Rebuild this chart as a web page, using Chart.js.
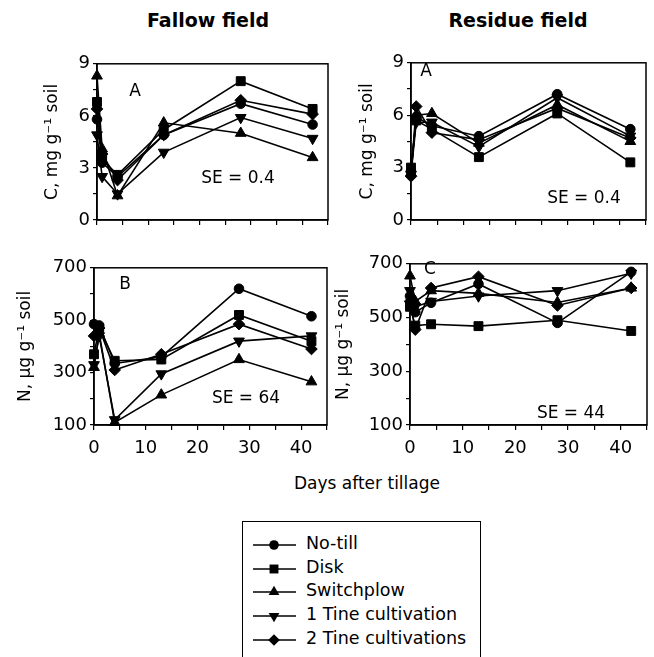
<!DOCTYPE html>
<html lang="en">
<head>
    <meta charset="UTF-8">
    <title>Fallow and residue field C and N</title>
    <style>
        body {
            margin: 0;
            background: #fff;
            font-family: "DejaVu Sans", Arial, sans-serif;
            color: #000;
        }
        .wrap {
            position: relative;
            width: 654px;
            height: 657px;
            overflow: hidden;
        }
        canvas {
            position: absolute;
        }
        .txt {
            position: absolute;
            transform: translate(-50%, -50%);
            white-space: nowrap;
            font-size: 17px;
        }
        .head {
            font-weight: bold;
            font-size: 19px;
        }
        .legend {
            position: absolute;
            left: 242px;
            top: 521px;
            width: 239px;
            height: 150px;
            border: 1.5px solid #000;
            box-sizing: border-box;
        }
        .row {
            position: absolute;
            left: 0;
            height: 24px;
            width: 236px;
        }
        .row canvas {
            left: 9px;
            top: 2px;
        }
        .row span {
            position: absolute;
            left: 63px;
            top: 1px;
            font-size: 17.5px;
        }
    </style>
    <script src="https://cdn.jsdelivr.net/npm/chart.js@4.4.1/dist/chart.umd.min.js"></script>
</head>
<body>
<div class="wrap">
    <div class="txt head" style="left:208px; top:20px;">Fallow field</div>
    <div class="txt head" style="left:518px; top:20px;">Residue field</div>

    <canvas id="c1" width="294" height="210" style="left:42px; top:50px;"></canvas>
    <canvas id="c2" width="297" height="211" style="left:357px; top:49px;"></canvas>
    <canvas id="c3" width="320" height="211" style="left:15px; top:254px;"></canvas>
    <canvas id="c4" width="322" height="215" style="left:333px; top:250px;"></canvas>

    <div class="txt" style="left:135px; top:90px;">A</div>
    <div class="txt" style="left:238px; top:177px;">SE = 0.4</div>
    <div class="txt" style="left:426px; top:70px;">A</div>
    <div class="txt" style="left:584px; top:197px;">SE = 0.4</div>
    <div class="txt" style="left:125px; top:283px;">B</div>
    <div class="txt" style="left:246px; top:397px;">SE = 64</div>
    <div class="txt" style="left:430px; top:268px;">C</div>
    <div class="txt" style="left:571px; top:412px;">SE = 44</div>

    <div class="txt" style="left:367px; top:483px;">Days after tillage</div>

    <div class="legend" id="legend"></div>
</div>

<script>
    // sampling days after tillage
    const days = [0, 1, 4, 13, 28, 42];
    const treatments = ['No-till', 'Disk', 'Switchplow', '1 Tine cultivation', '2 Tine cultivations'];

    // C, mg g-1 soil (rows follow treatments)
    const fallowC = [
        [5.8, 3.3, 2.5, 4.9, 6.7, 5.5],
        [6.8, 3.5, 2.6, 5.2, 8.0, 6.4],
        [8.3, 4.1, 1.4, 5.6, 5.0, 3.6],
        [4.9, 2.5, 1.5, 3.9, 5.9, 4.7],
        [6.4, 3.8, 2.3, 4.9, 6.9, 6.1]
    ];
    const residueC = [
        [2.8, 5.9, 5.4, 4.8, 7.2, 5.2],
        [3.0, 5.7, 5.2, 3.6, 6.1, 3.3],
        [2.7, 6.0, 6.1, 4.4, 6.6, 4.5],
        [2.6, 5.6, 5.6, 4.2, 7.0, 4.8],
        [2.5, 6.5, 5.0, 4.6, 6.4, 4.7]
    ];

    // N, ug g-1 soil
    const fallowN = [
        [485, 480, 335, 360, 620, 515],
        [370, 470, 345, 350, 520, 420],
        [320, 450, 110, 215, 350, 265],
        [330, 440, 120, 295, 420, 440],
        [440, 470, 310, 370, 485, 390]
    ];
    const residueN = [
        [580, 520, 555, 625, 480, 670],
        [540, 470, 475, 468, 490, 450],
        [655, 560, 600, 590, 556, 610],
        [600, 540, 560, 580, 600, 665],
        [560, 455, 610, 652, 545, 610]
    ];

    const markers = [
        {style: 'circle', radius: 4.8, rot: 0},
        {style: 'rect', radius: 6.3, rot: 0},
        {style: 'triangle', radius: 6.2, rot: 0},
        {style: 'triangle', radius: 6.2, rot: 180},
        {style: 'rectRot', radius: 5.8, rot: 0}
    ];

    Chart.defaults.font.family = '"DejaVu Sans", Arial, sans-serif';
    Chart.defaults.font.size = 18;
    Chart.defaults.color = '#000';

    const frame = {
        id: 'frame',
        afterDraw(chart) {
            const a = chart.chartArea;
            const ctx = chart.ctx;
            ctx.save();
            ctx.strokeStyle = '#000';
            ctx.lineWidth = 1.5;
            ctx.strokeRect(a.left, a.top, a.right - a.left, a.bottom - a.top);
            ctx.restore();
        }
    };

    function isMultiple(v, base, m) {
        const k = (v - base) / m;
        return Math.abs(k - Math.round(k)) < 1e-6;
    }

    function panel(id, rows, yMin, yMax, yStep, yEvery, yTitle, axisW, showX) {
        const datasets = rows.map((vals, i) => ({
            label: treatments[i],
            data: vals.map((v, j) => ({x: days[j], y: v})),
            borderColor: '#000',
            backgroundColor: '#000',
            borderWidth: 1.6,
            pointStyle: markers[i].style,
            pointRadius: markers[i].radius,
            pointRotation: markers[i].rot,
            pointBorderWidth: 1,
            pointBackgroundColor: '#000',
            pointBorderColor: '#000',
            tension: 0,
            clip: false
        }));
        return new Chart(id, {
            type: 'line',
            data: {datasets: datasets},
            options: {
                responsive: false,
                animation: false,
                layout: {autoPadding: false, padding: {left: 0, top: 8, right: 8, bottom: 0}},
                plugins: {legend: {display: false}, tooltip: {enabled: false}},
                scales: {
                    x: {
                        type: 'linear',
                        min: 0,
                        max: 45,
                        ticks: {
                            stepSize: 5,
                            autoSkip: false,
                            maxRotation: 0,
                            padding: 8,
                            callback: v => (showX && isMultiple(v, 0, 10)) ? v : ''
                        },
                        grid: {drawOnChartArea: false, tickLength: 5, color: '#000', lineWidth: 1.2},
                        border: {color: '#000', width: 1.5},
                        afterFit: s => { s.height = 40; }
                    },
                    y: {
                        min: yMin,
                        max: yMax,
                        ticks: {
                            stepSize: yStep,
                            autoSkip: false,
                            padding: 3,
                            callback: v => isMultiple(v, yMin, yEvery) ? v : ''
                        },
                        grid: {drawOnChartArea: false, tickLength: 4, color: '#000', lineWidth: 1.2},
                        border: {color: '#000', width: 1.5},
                        title: {display: true, text: yTitle, padding: 0, font: {size: 17}},
                        afterFit: s => { s.width = axisW; }
                    }
                }
            },
            plugins: [frame]
        });
    }

    panel('c1', fallowC, 0, 9, 1.5, 3, 'C, mg g\u207B\u00B9 soil', 55, false);
    panel('c2', residueC, 0, 9, 1.5, 3, 'C, mg g\u207B\u00B9 soil', 54, false);
    panel('c3', fallowN, 100, 700, 100, 200, 'N, \u00B5g g\u207B\u00B9 soil', 79, true);
    panel('c4', residueN, 100, 700, 100, 200, 'N, \u00B5g g\u207B\u00B9 soil', 77, true);

    // legend samples: line with marker in the middle
    function drawMarker(ctx, m, x, y) {
        const r = m.radius;
        ctx.beginPath();
        if (m.style === 'circle') {
            ctx.arc(x, y, r, 0, Math.PI * 2);
        } else if (m.style === 'rect') {
            const s = Math.SQRT1_2 * r;
            ctx.rect(x - s, y - s, 2 * s, 2 * s);
        } else if (m.style === 'triangle') {
            const d = m.rot === 180 ? -1 : 1;
            const half = Math.sqrt(3) / 2 * r;
            ctx.moveTo(x, y - d * r);
            ctx.lineTo(x - half, y + d * r / 2);
            ctx.lineTo(x + half, y + d * r / 2);
            ctx.closePath();
        } else {
            ctx.moveTo(x, y - r);
            ctx.lineTo(x + r, y);
            ctx.lineTo(x, y + r);
            ctx.lineTo(x - r, y);
            ctx.closePath();
        }
        ctx.fill();
    }

    const legend = document.getElementById('legend');
    treatments.forEach((name, i) => {
        const row = document.createElement('div');
        row.className = 'row';
        row.style.top = (10 + i * 23.7) + 'px';
        const cv = document.createElement('canvas');
        cv.width = 46;
        cv.height = 20;
        const ctx = cv.getContext('2d');
        ctx.fillStyle = '#000';
        ctx.strokeStyle = '#000';
        ctx.lineWidth = 1.6;
        ctx.beginPath();
        ctx.moveTo(1, 11);
        ctx.lineTo(44, 11);
        ctx.stroke();
        drawMarker(ctx, markers[i], 22, 11);
        const sp = document.createElement('span');
        sp.textContent = name;
        row.appendChild(cv);
        row.appendChild(sp);
        legend.appendChild(row);
    });
</script>
</body>
</html>
